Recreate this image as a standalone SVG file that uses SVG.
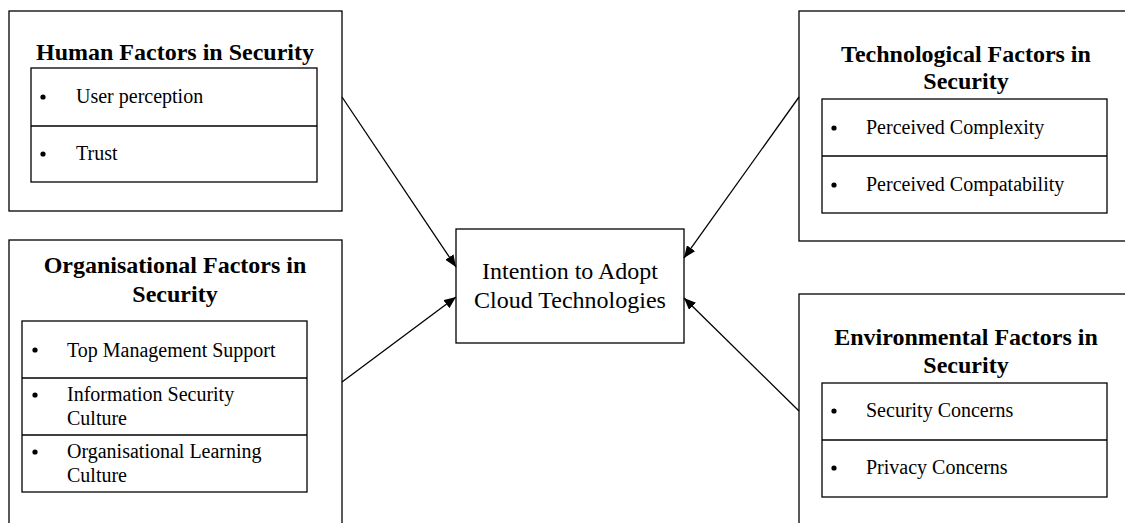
<svg xmlns="http://www.w3.org/2000/svg" width="1125" height="523" viewBox="0 0 1125 523">
<style>
.box{fill:#fff;stroke:#000;stroke-width:1.3}
.div{stroke:#000;stroke-width:1.3}
.title{font-family:"Liberation Serif",serif;font-weight:bold;font-size:24px;text-anchor:middle;fill:#000}
.item{font-family:"Liberation Serif",serif;font-size:20px;fill:#000}
.center{font-family:"Liberation Serif",serif;font-size:24px;text-anchor:middle;fill:#000}
.bul{fill:#000}
.conn{stroke:#000;stroke-width:1.3;fill:none;marker-end:url(#ah)}
</style>
<defs>
<marker id="ah" viewBox="0 0 12 10" refX="12" refY="5" markerWidth="12" markerHeight="10" markerUnits="userSpaceOnUse" orient="auto">
<path d="M0,0 L12,5 L0,10 Z" fill="#000"/>
</marker>
</defs>
<rect width="1125" height="523" fill="#fff"/>

<g id="human">
<rect class="box" x="9" y="11" width="333" height="200"/>
<text class="title" x="175" y="60">Human Factors in Security</text>
<rect class="box" x="31" y="68" width="286" height="114"/>
<line class="div" x1="31" y1="126" x2="317" y2="126"/>
<circle class="bul" cx="43" cy="97" r="2.6"/>
<text class="item" x="76" y="103">User perception</text>
<circle class="bul" cx="43" cy="154" r="2.6"/>
<text class="item" x="76" y="160">Trust</text>
</g>

<g id="organisational">
<rect class="box" x="9" y="240" width="333" height="300"/>
<text class="title" x="175" y="273">Organisational Factors in</text>
<text class="title" x="175" y="302">Security</text>
<rect class="box" x="22" y="321" width="285" height="171"/>
<line class="div" x1="22" y1="378" x2="307" y2="378"/>
<line class="div" x1="22" y1="435" x2="307" y2="435"/>
<circle class="bul" cx="35" cy="350" r="2.6"/>
<text class="item" x="67" y="357">Top Management Support</text>
<circle class="bul" cx="35" cy="395" r="2.6"/>
<text class="item" x="67" y="401">Information Security</text>
<text class="item" x="67" y="425">Culture</text>
<circle class="bul" cx="35" cy="452" r="2.6"/>
<text class="item" x="67" y="458">Organisational Learning</text>
<text class="item" x="67" y="482">Culture</text>
</g>

<g id="technological">
<rect class="box" x="799" y="11" width="340" height="230"/>
<text class="title" x="966" y="62">Technological Factors in</text>
<text class="title" x="966" y="89">Security</text>
<rect class="box" x="822" y="99" width="285" height="114"/>
<line class="div" x1="822" y1="156" x2="1107" y2="156"/>
<circle class="bul" cx="834" cy="128" r="2.6"/>
<text class="item" x="866" y="134">Perceived Complexity</text>
<circle class="bul" cx="834" cy="185" r="2.6"/>
<text class="item" x="866" y="191">Perceived Compatability</text>
</g>

<g id="environmental">
<rect class="box" x="799" y="294" width="340" height="250"/>
<text class="title" x="966" y="345">Environmental Factors in</text>
<text class="title" x="966" y="373">Security</text>
<rect class="box" x="822" y="383" width="285" height="114"/>
<line class="div" x1="822" y1="440" x2="1107" y2="440"/>
<circle class="bul" cx="834" cy="411" r="2.6"/>
<text class="item" x="866" y="417">Security Concerns</text>
<circle class="bul" cx="834" cy="468" r="2.6"/>
<text class="item" x="866" y="474">Privacy Concerns</text>
</g>

<g id="intention">
<rect class="box" x="456" y="229" width="228" height="114"/>
<text class="center" x="570" y="279">Intention to Adopt</text>
<text class="center" x="570" y="308">Cloud Technologies</text>
</g>

<g id="connectors">
<line class="conn" x1="342" y1="97" x2="456" y2="267"/>
<line class="conn" x1="342" y1="382" x2="456" y2="297"/>
<line class="conn" x1="799" y1="97" x2="684" y2="258"/>
<line class="conn" x1="799" y1="411" x2="684" y2="298"/>
</g>
</svg>
